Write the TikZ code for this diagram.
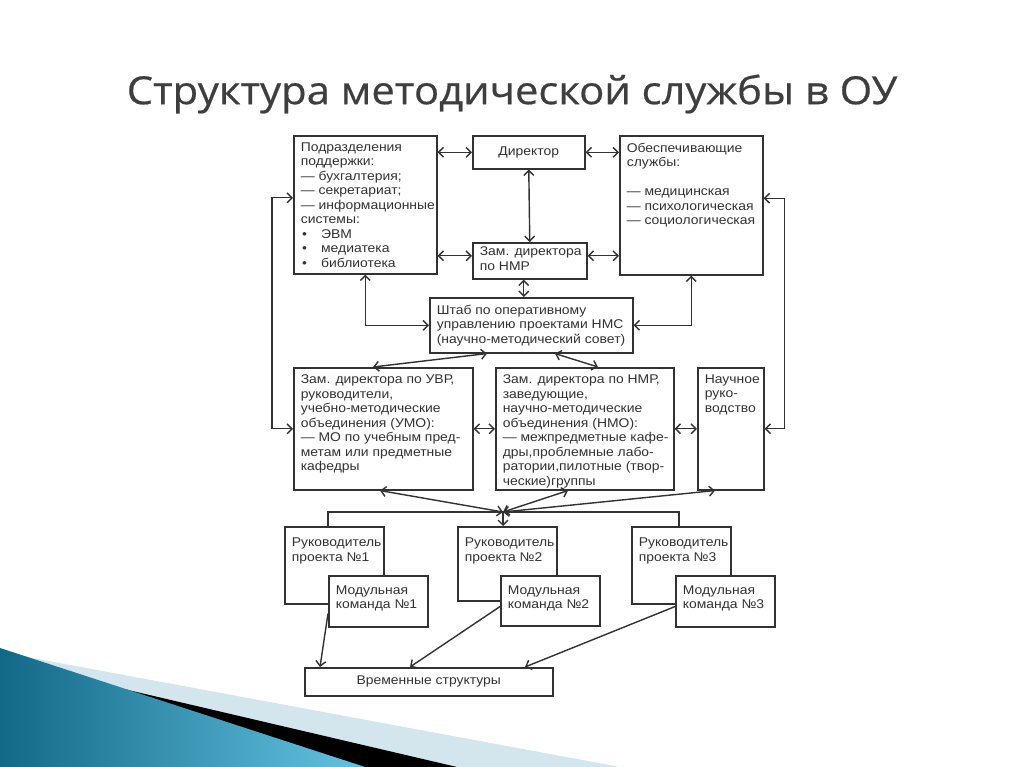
\documentclass[tikz,border=0pt]{standalone}
\usepackage{fontspec}
\setmainfont[FakeStretch=1.1]{Liberation Sans}
\newfontfamily\titlefont[FakeStretch=1.08,FakeBold=0.5]{Open Sans}
\usetikzlibrary{arrows.meta,calc}
\definecolor{linegray}{RGB}{50,50,50}
\definecolor{titlegray}{RGB}{62,62,62}
\definecolor{wavedark}{RGB}{18,105,135}
\definecolor{wavelight}{RGB}{100,195,225}
\definecolor{wavepale}{RGB}{212,230,237}
\newlength\pxu
\setlength\pxu{0.025cm}
\newcommand{\diagfont}{\fontsize{9}{10.3}\selectfont}
\newcommand{\boxtext}[3]{\parbox[c][#2\pxu][t]{#1\pxu}{\raggedright\leftskip=5pt\vspace*{5pt}#3}}
\tikzset{
  panel/.style={draw=linegray, line width=1.1pt, anchor=north west, inner sep=0pt, fill=white, text=linegray, font=\diagfont},
  cbox/.style={panel, align=center},
  arr/.style={<->, draw=linegray, line width=1pt},
  arrone/.style={->, draw=linegray, line width=1pt},
  link/.style={draw=linegray, line width=1pt}
}

\begin{document}
\begin{tikzpicture}[x=0.025cm, y=-0.025cm, >={Straight Barb[length=3.5pt,width=7pt]}]
\useasboundingbox[fill=white] (0,0) rectangle (1024,767);

\fill[wavepale] (0,652) -- (620,767) -- (0,767) -- cycle;
\fill[black] (0,660) -- (457,767) -- (0,767) -- cycle;
\shade[left color=wavedark, right color=wavelight] (0,648) -- (365,767) -- (0,767) -- cycle;

\node[text=titlegray, font=\titlefont\fontsize{27.5}{32}\selectfont] (title) at (512,94) {Структура методической службы в ОУ};

\node[panel] (sub) at (293,135) {\boxtext{143}{138}{Подразделения\\ поддержки:\\ — бухгалтерия;\\ — секретариат;\\ — информационные\\ системы:\\ \hspace{1pt}•\hspace{10pt}ЭВМ\\ \hspace{1pt}•\hspace{10pt}медиатека\\ \hspace{1pt}•\hspace{10pt}библиотека}};
\node[cbox, minimum width=112\pxu, minimum height=33\pxu] (dir) at (472,135) {Директор};
\node[panel] (obs) at (619,135) {\boxtext{143}{139}{Обеспечивающие\\ службы:\\[10.3pt] — медицинская\\ — психологическая\\ — социологическая}};
\node[panel] (zam) at (472,242) {\boxtext{114}{36}{\vspace*{-2pt}Зам. директора\\ по НМР}};
\node[panel] (shtab) at (429,297) {\boxtext{203}{55}{Штаб по оперативному\\ управлению проектами НМС\\ (научно-методический совет)}};
\node[panel] (uvr) at (293,367) {\boxtext{179}{122}{Зам. директора по УВР,\\ руководители,\\ учебно-методические\\ объединения (УМО):\\ — МО по учебным пред-\\ метам или предметные\\ кафедры}};
\node[panel] (nmr) at (495,367) {\boxtext{178}{122}{Зам. директора по НМР,\\ заведующие,\\ научно-методические\\ объединения (НМО):\\ — межпредметные кафе-\\ дры,проблемные лабо-\\ ратории,пилотные (твор-\\ ческие)группы}};
\node[panel] (nauch) at (697,367) {\boxtext{66}{122}{Научное\\ руко-\\ водство}};

\node[panel] (ruk1) at (284,526) {\boxtext{99}{77}{\vspace*{3pt}Руководитель\\ проекта №1}};
\node[panel] (mod1) at (328,575) {\boxtext{99}{51}{\vspace*{2pt}Модульная\\ команда №1}};
\node[panel] (ruk2) at (457,526) {\boxtext{99}{74}{\vspace*{3pt}Руководитель\\ проекта №2}};
\node[panel] (mod2) at (500,575) {\boxtext{99}{50}{\vspace*{2pt}Модульная\\ команда №2}};
\node[panel] (ruk3) at (631,526) {\boxtext{99}{77}{\vspace*{3pt}Руководитель\\ проекта №3}};
\node[panel] (mod3) at (675,575) {\boxtext{99}{51}{\vspace*{2pt}Модульная\\ команда №3}};
\node[cbox, minimum width=248\pxu, minimum height=28\pxu] (vrem) at (304,667) {Временные структуры};

\coordinate (zl) at ($(zam.west)+(0,-5)$);
\coordinate (zr) at ($(zam.east)+(0,-5)$);
\coordinate (zs) at ($(zam.south)+(-6,0)$);
\coordinate (hub) at (503,512);

\draw[arr] (sub.east |- dir.west) -- (dir.west);
\draw[arr] (dir.east) -- (obs.west |- dir.east);
\draw[arr] (dir.south) -- (zam.north);
\draw[arr] (sub.east |- zl) -- (zl);
\draw[arr] (zr) -- (obs.west |- zr);
\draw[arr] (zs) -- (zs |- shtab.north);
\draw[arr] (sub.south) |- (shtab.west);
\draw[arr] (obs.south) |- (shtab.east);
\draw[arr] ($(shtab.south west)+(58,0)$) -- ($(uvr.north west)+(80,0)$);
\draw[arr] ($(shtab.south west)+(126,0)$) -- ($(nmr.north west)+(103,0)$);
\draw[arr] ($(sub.west)+(0,-7)$) -- ++(-21,0) |- (uvr.west);
\draw[arr] ($(obs.east)+(0,-7)$) -- ++(21,0) |- (nauch.east);
\draw[arr] (uvr.east) -- (nmr.west);
\draw[arr] (nmr.east) -- (nauch.west);

\draw[arr] (hub) -- ($(uvr.south west)+(87,0)$);
\draw[arr] (hub) -- ($(nmr.south west)+(73,0)$);
\draw[arr] (hub) -- ($(nauch.south west)+(18,0)$);
\draw[link] ($(ruk1.north west)+(44,0)$) |- (hub) -| ($(ruk3.north west)+(48,0)$);
\draw[arrone] (hub) -- (hub |- ruk2.north);

\draw[arrone] ($(mod1.south west)+(0,-14)$) -- ($(vrem.north west)+(16,0)$);
\draw[arrone] ($(mod2.south west)+(0,-20)$) -- ($(vrem.north west)+(106,0)$);
\draw[arrone] ($(mod3.south west)+(0,-21)$) -- ($(vrem.north west)+(221,0)$);
\end{tikzpicture}
\end{document}
